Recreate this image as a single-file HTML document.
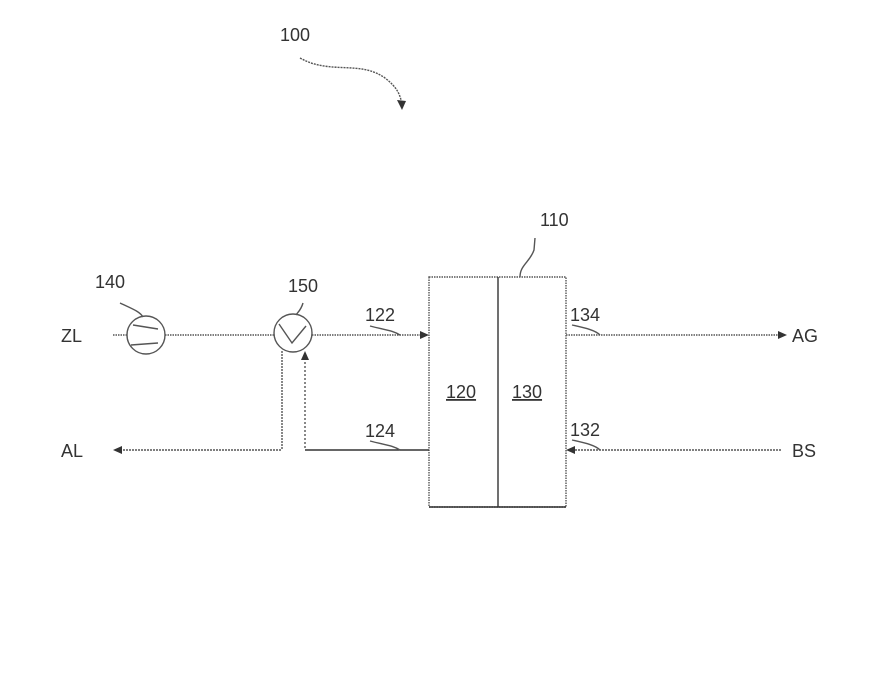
<!DOCTYPE html>
<html><head><style>
body{margin:0;background:#fff;}
svg text{font-family:"Liberation Sans",sans-serif;fill:#333;}
</style></head><body>
<svg width="874" height="688" viewBox="0 0 874 688" xmlns="http://www.w3.org/2000/svg">
<g stroke="#555" fill="none" stroke-width="1.4">
<path d="M300 58 C330 75,360 60,385 78 C398 88,400 95,402 104" stroke-dasharray="2 1"/>
<rect x="429" y="277" width="137" height="230" stroke-dasharray="1.5 1"/>
<line x1="498" y1="277" x2="498" y2="507" stroke="#333"/>
<line x1="429" y1="507" x2="566" y2="507" stroke="#333"/>
<path d="M520 277 C520 265,530 262,534 250 L535 238"/>
<line x1="113" y1="335" x2="127" y2="335" stroke-dasharray="1.5 1"/>
<line x1="165" y1="335" x2="274" y2="335" stroke-dasharray="1.5 1"/>
<line x1="312" y1="335" x2="425" y2="335" stroke-dasharray="1.5 1"/>
<line x1="566" y1="335" x2="780" y2="335" stroke-dasharray="1.5 1"/>
<circle cx="146" cy="335" r="19"/>
<path d="M133 325 L158 329 M131 345 L158 343" />
<path d="M120 303 C135 310,140 312,143 317"/>
<circle cx="293" cy="333" r="19"/>
<path d="M279 324 L292 343 L306 326"/>
<path d="M303 303 C301 310,298 312,296 315"/>
<line x1="282" y1="351" x2="282" y2="450" stroke-dasharray="2 1"/>
<line x1="120" y1="450" x2="282" y2="450" stroke-dasharray="2 1"/>
<line x1="305" y1="358" x2="305" y2="450" stroke-dasharray="2 2"/>
<line x1="305" y1="450" x2="429" y2="450" stroke="#333"/>
<line x1="572" y1="450" x2="782" y2="450" stroke-dasharray="2 1"/>
<path d="M370 326 C385 330,392 330,400 335"/>
<path d="M370 441 C385 445,392 445,400 450"/>
<path d="M572 325 C585 328,595 330,600 335"/>
<path d="M572 440 C585 443,595 445,600 450"/>
</g>
<g fill="#333">
<polygon points="429,335 420,331 420,339"/>
<polygon points="787,335 778,331 778,339"/>
<polygon points="113,450 122,446 122,454"/>
<polygon points="566,450 575,446 575,454"/>
<polygon points="305,351 301,360 309,360"/>
<polygon points="402,110 397,100 406,101"/>
</g>
<g font-size="18">
<text x="280" y="41">100</text>
<text x="540" y="226">110</text>
<text x="95" y="288">140</text>
<text x="288" y="292">150</text>
<text x="365" y="321">122</text>
<text x="365" y="437">124</text>
<text x="570" y="321">134</text>
<text x="570" y="436">132</text>
<text x="446" y="398" text-decoration="underline">120</text>
<text x="512" y="398" text-decoration="underline">130</text>
<text x="61" y="342">ZL</text>
<text x="61" y="457">AL</text>
<text x="792" y="342">AG</text>
<text x="792" y="457">BS</text>
</g>
</svg>
</body></html>
